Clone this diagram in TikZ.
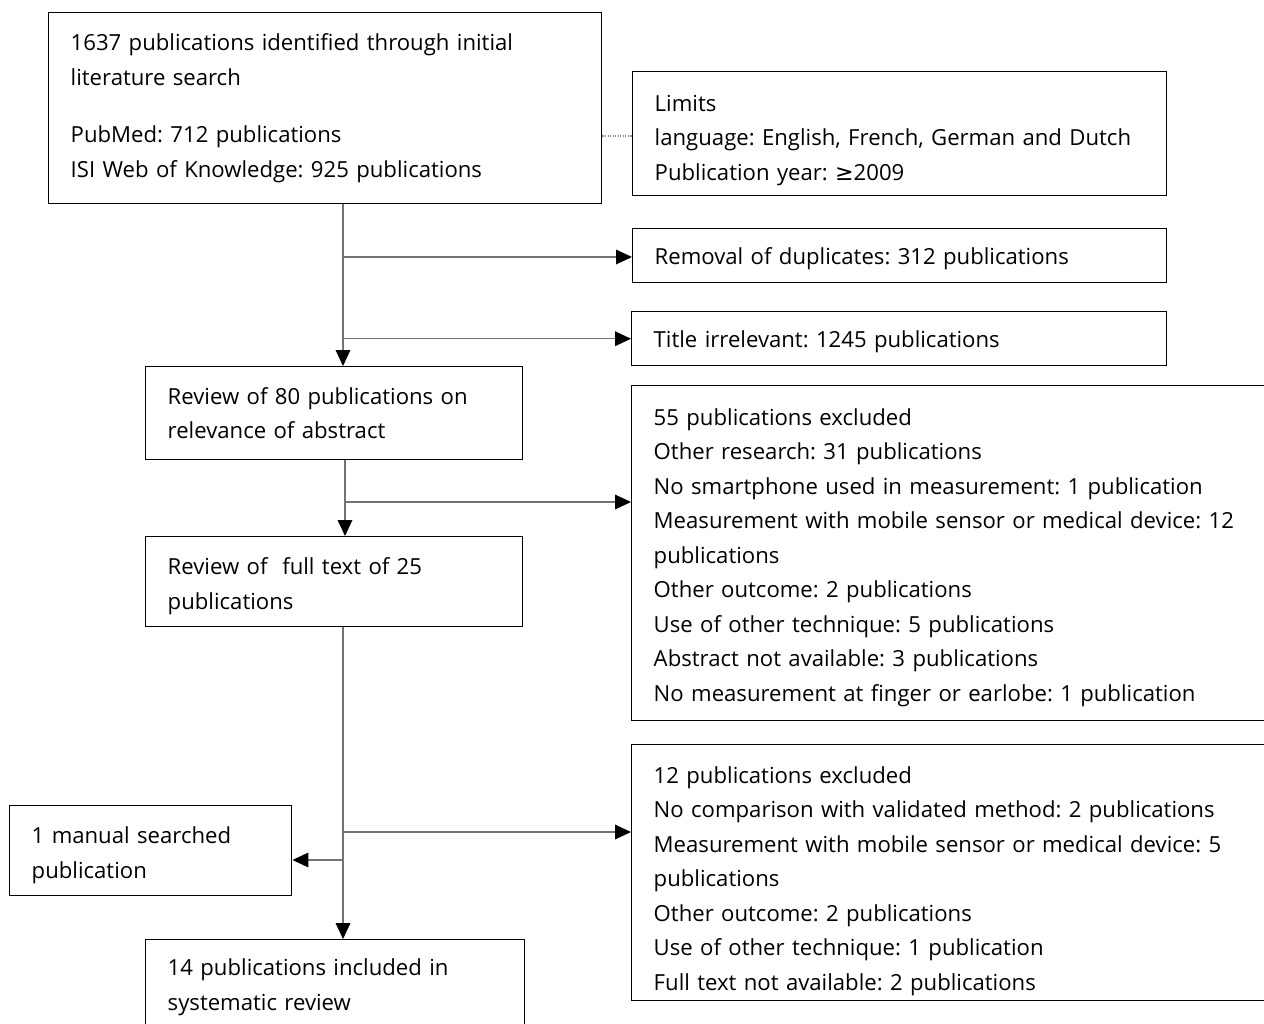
\documentclass[tikz,border=0pt]{standalone}
\usepackage{fontspec}
\setmainfont{Open Sans}
\newfontfamily\symf{DejaVu Sans}
\usetikzlibrary{arrows.meta,calc}
\newcommand{\tdown}[1]{\rule{0pt}{#1}}
\begin{document}
\begin{tikzpicture}[x=0.75pt,y=-0.75pt,
  box/.style={draw=black, line width=1.1pt, anchor=north west, inner xsep=16.5pt, inner ysep=0pt,
    align=left, text=black, font=\fontsize{16.6}{25.9}\selectfont\frenchspacing},
  conn/.style={draw=black!55, line width=0.9pt},
  arr/.style={conn, -{Triangle[length=12pt,width=11pt,fill=black,color=black]}},
  dotc/.style={draw=black!45, line width=0.9pt, densely dotted}]
\useasboundingbox (0,0) rectangle (1264,1024);
\clip (0,0) rectangle (1264,1024);
\node[box, minimum width=414.75pt, minimum height=143.25pt, text width=381.75pt] (b1) at (48,12)
  {1637 publications identified through initial\\ literature search\\[17pt] PubMed: 712 publications\\ ISI Web of Knowledge: 925 publications};
\node[box, minimum width=400.5pt, minimum height=93pt, text width=367.5pt] (lim) at (632,71)
  {\tdown{22pt}Limits\\ language: English, French, German and Dutch\\ Publication year: {\symf ≥}2009};
\node[box, minimum width=400.5pt, minimum height=40.5pt, text width=367.5pt] (dup) at (632,228)
  {\tdown{17.5pt}Removal of duplicates: 312 publications};
\node[box, minimum width=401.25pt, minimum height=40.5pt, text width=368.25pt] (tit) at (631,311)
  {\tdown{17.5pt}Title irrelevant: 1245 publications};
\node[box, minimum width=282.75pt, minimum height=69.75pt, text width=249.75pt] (r80) at (145,366)
  {Review of 80 publications on\\ relevance of abstract};
\node[box, minimum width=495pt, minimum height=251.25pt, text width=462pt] (e55) at (631,385)
  {\tdown{19pt}55 publications excluded\\ Other research: 31 publications\\ No smartphone used in measurement: 1 publication\\ Measurement with mobile sensor or medical device: 12\\ publications\\ Other outcome: 2 publications\\ Use of other technique: 5 publications\\ Abstract not available: 3 publications\\ No measurement at finger or earlobe: 1 publication};
\node[box, minimum width=282.75pt, minimum height=67.5pt, text width=249.75pt] (f25) at (145,536)
  {\tdown{19pt}Review of~ full text of 25\\ publications};
\node[box, minimum width=211.5pt, minimum height=67.5pt, text width=178.5pt] (man) at (9,805)
  {\tdown{19pt}1 manual searched\\ publication};
\node[box, minimum width=495pt, minimum height=192pt, text width=462pt] (e12) at (631,744)
  {\tdown{25pt}12 publications excluded\\ No comparison with validated method: 2 publications\\ Measurement with mobile sensor or medical device: 5\\ publications\\ Other outcome: 2 publications\\ Use of other technique: 1 publication\\ Full text not available: 2 publications};
\node[box, minimum width=284.25pt, minimum height=67.5pt, text width=251.25pt] (inc) at (145,939)
  {\tdown{16pt}14 publications included in\\ systematic review};
% connectors
\coordinate (xa) at (343,0);
\coordinate (xb) at (345,0);
\coordinate (j1) at (343,257);
\coordinate (j2) at (345,502);
\coordinate (j3) at (343,832);
\coordinate (j4) at (343,860);
\draw[dotc] (b1.east |- 0,136) -- (lim.west |- 0,136);
\draw[arr] (b1.south -| xa) -- (r80.north -| xa);
\draw[arr] (j1) -- (j1 -| dup.west);
\draw[arr] (xa |- tit.west) -- (tit.west);
\draw[arr] (r80.south -| xb) -- (f25.north -| xb);
\draw[arr] (j2) -- (j2 -| e55.west);
\draw[arr] (f25.south -| xa) -- (inc.north -| xa);
\draw[arr] (j3) -- (j3 -| e12.west);
\draw[arr] (j4) -- (j4 -| man.east);
\end{tikzpicture}
\end{document}
